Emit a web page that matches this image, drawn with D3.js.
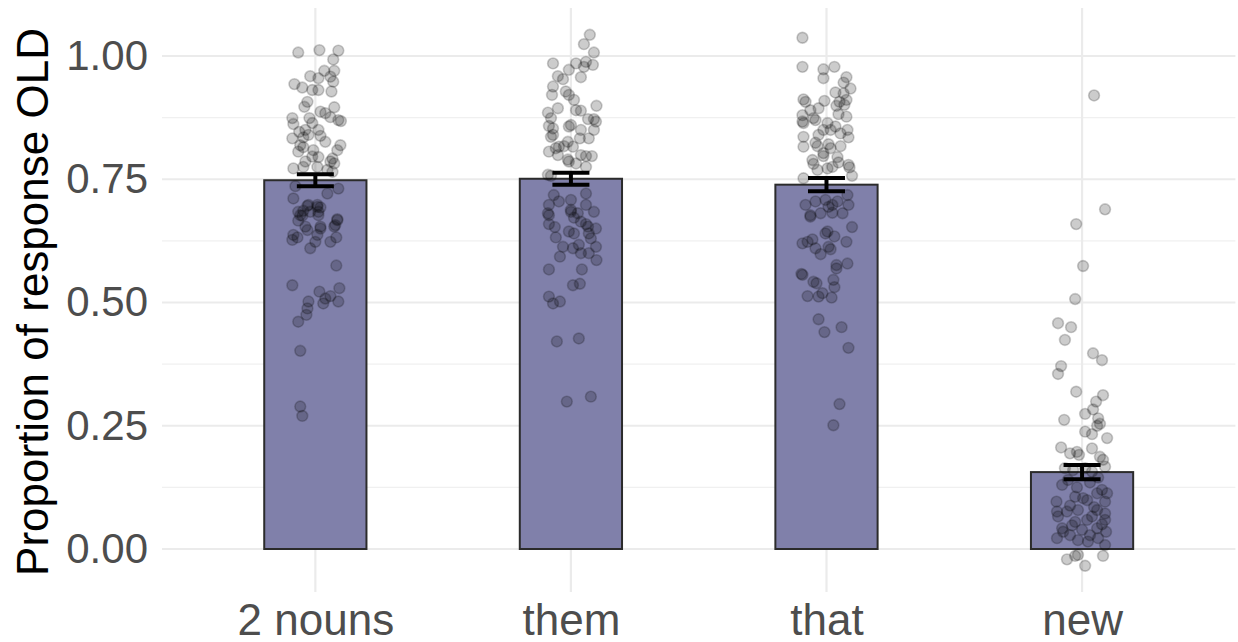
<!DOCTYPE html>
<html>
<head>
<meta charset="utf-8">
<script src="https://cdn.jsdelivr.net/npm/d3@7"></script>
<style>
  html, body { margin: 0; padding: 0; background: #fff; }
  svg { display: block; font-family: "Liberation Sans", Arial, Helvetica, sans-serif; }
</style>
</head>
<body>
<svg id="chart" width="1238" height="642"></svg>
<script>
// Conditions on the x axis
const categories = ["2 nouns", "them", "that", "new"];

// Mean proportion of "old" responses per condition, with standard errors
const means = [0.748, 0.751, 0.739, 0.156];
const stdErrors = [0.012, 0.012, 0.0135, 0.0145];

// Per-participant proportions and their horizontal jitter (fraction of the jitter width)
const nounsVals = [1.007,1.012,1.011,0.993,0.959,0.970,0.955,0.970,0.958,0.948,0.943,0.936,0.931,0.931,0.928,0.907,0.897,0.896,0.887,0.884,0.876,0.870,0.868,0.874,0.862,0.874,0.864,0.846,0.850,0.840,0.835,0.850,0.838,0.826,0.833,0.819,0.815,0.806,0.809,0.796,0.819,0.809,0.792,0.782,0.786,0.795,0.786,0.775,0.775,0.772,0.769,0.765,0.736,0.711,0.684,0.677,0.666,0.676,0.686,0.721,0.731,0.667,0.698,0.698,0.684,0.684,0.654,0.654,0.657,0.694,0.693,0.696,0.677,0.669,0.654,0.632,0.623,0.647,0.650,0.637,0.623,0.637,0.627,0.632,0.610,0.575,0.535,0.522,0.508,0.513,0.529,0.502,0.498,0.502,0.488,0.475,0.461,0.402,0.289,0.270];
const nounsJit = [-0.67,0.16,0.90,0.70,-0.20,0.35,0.12,0.74,0.59,0.70,-0.82,-0.51,-0.12,0.12,0.63,-0.31,-0.43,0.74,0.20,0.39,0.59,0.90,1.00,-0.90,-0.86,-0.23,-0.12,-0.63,-0.39,-0.27,-0.47,0.12,0.20,0.39,-0.90,-0.59,-0.47,-0.67,-0.08,-0.12,0.98,0.86,0.67,0.74,0.59,0.12,-0.39,-0.47,0.08,-0.86,0.47,0.67,-0.78,-0.86,-0.67,-0.59,-0.67,-0.51,-0.47,0.47,0.90,0.86,-0.27,0.08,0.12,-0.20,-0.39,0.20,0.78,0.08,0.20,-0.31,0.12,0.86,0.74,0.82,0.59,-0.31,0.20,0.08,0.00,-0.86,-0.90,-0.70,-0.20,0.82,-0.90,0.16,0.39,0.59,0.94,0.90,0.31,-0.27,-0.31,-0.35,-0.67,-0.59,-0.59,-0.51];

const themVals = [1.043,1.024,1.007,0.985,0.985,0.988,0.982,0.978,0.972,0.959,0.953,0.957,0.938,0.921,0.928,0.921,0.911,0.899,0.894,0.890,0.889,0.885,0.874,0.872,0.872,0.867,0.858,0.853,0.836,0.840,0.860,0.857,0.850,0.850,0.833,0.833,0.826,0.817,0.816,0.816,0.806,0.799,0.813,0.799,0.797,0.797,0.790,0.786,0.782,0.775,0.759,0.757,0.718,0.698,0.681,0.708,0.721,0.684,0.684,0.681,0.705,0.698,0.677,0.659,0.653,0.632,0.688,0.672,0.644,0.640,0.664,0.659,0.654,0.640,0.650,0.613,0.610,0.617,0.600,0.600,0.613,0.586,0.630,0.593,0.567,0.567,0.535,0.538,0.512,0.498,0.502,0.421,0.427,0.299,0.309];
const themJit = [0.74,0.51,0.90,-0.70,0.20,0.59,0.86,0.51,-0.08,-0.51,-0.31,0.39,-0.70,-0.74,-0.20,-0.08,0.12,1.00,-0.51,0.20,0.39,-0.90,-0.78,0.67,0.90,0.98,-0.86,-0.70,-0.78,-0.70,0.00,-0.08,0.39,0.90,0.70,0.35,-0.12,-0.27,-0.47,0.08,-0.86,-0.51,-0.59,0.39,0.59,0.82,-0.12,-0.08,0.20,0.59,-0.90,-0.78,-0.67,-0.86,-0.90,0.00,0.59,0.90,0.00,0.27,-0.47,0.59,-0.86,-0.86,-0.63,-0.59,0.00,0.12,-0.08,0.12,0.39,0.59,0.67,0.70,0.98,-0.31,0.08,0.31,0.39,0.70,0.98,1.00,0.78,-0.43,-0.86,0.43,0.08,0.35,-0.86,-0.70,-0.43,-0.55,0.31,-0.16,0.78];

const thatVals = [1.037,0.978,0.973,0.978,0.955,0.957,0.946,0.934,0.926,0.924,0.907,0.911,0.899,0.901,0.912,0.907,0.909,0.894,0.890,0.882,0.877,0.880,0.867,0.864,0.874,0.870,0.864,0.850,0.840,0.850,0.857,0.850,0.835,0.843,0.836,0.816,0.824,0.817,0.821,0.813,0.817,0.803,0.797,0.789,0.781,0.795,0.784,0.779,0.774,0.769,0.772,0.775,0.752,0.757,0.698,0.705,0.708,0.698,0.705,0.718,0.698,0.677,0.681,0.682,0.681,0.674,0.694,0.653,0.623,0.640,0.644,0.634,0.620,0.623,0.628,0.610,0.598,0.613,0.608,0.576,0.569,0.579,0.558,0.556,0.542,0.539,0.546,0.531,0.513,0.512,0.519,0.510,0.466,0.440,0.450,0.408,0.294,0.251];
const thatJit = [-0.94,-0.94,-0.12,0.31,-0.12,0.78,0.67,0.94,0.35,0.67,0.51,0.78,0.39,0.70,-0.90,-0.82,-0.08,-0.31,-0.63,0.47,0.78,-0.94,-0.94,-0.90,-0.51,-0.43,0.04,-0.12,-0.31,0.16,0.35,0.82,0.86,0.55,-0.90,-0.90,-0.43,-0.35,0.08,0.16,0.55,-0.12,-0.12,-0.55,-0.51,0.43,0.47,0.86,0.90,-0.35,0.04,0.23,-0.90,1.00,-0.82,-0.43,-0.04,0.23,0.43,0.82,0.86,-0.63,-0.23,0.23,0.63,-0.63,0.08,1.00,0.78,-0.04,0.04,0.31,-0.94,-0.74,-0.55,-0.43,-0.23,0.08,0.16,0.39,0.39,0.82,-0.98,-0.94,-0.51,-0.39,0.27,0.31,-0.74,-0.31,-0.16,0.20,-0.31,-0.08,0.59,0.86,0.51,0.27];

const newVals = [0.920,0.689,0.659,0.574,0.507,0.458,0.450,0.424,0.397,0.383,0.371,0.355,0.319,0.312,0.299,0.283,0.262,0.274,0.265,0.254,0.250,0.225,0.238,0.233,0.206,0.194,0.197,0.191,0.204,0.187,0.181,0.164,0.160,0.164,0.157,0.167,0.145,0.140,0.135,0.130,0.125,0.120,0.113,0.113,0.106,0.103,0.099,0.096,0.096,0.088,0.085,0.079,0.079,0.076,0.076,0.072,0.066,0.066,0.059,0.059,0.055,0.050,0.048,0.042,0.042,0.039,0.035,0.035,0.028,0.028,0.022,0.022,0.018,0.015,0.008,-0.012,-0.014,-0.014,-0.021,-0.034];
const newJit = [0.47,0.90,-0.23,0.04,-0.27,-0.94,-0.43,-0.67,0.43,0.78,-0.82,-0.94,-0.23,0.82,0.55,0.43,-0.70,0.12,0.63,0.70,0.59,0.98,0.12,0.39,-0.82,-0.47,-0.20,-0.12,0.39,0.70,0.82,-0.67,-0.35,0.12,0.39,0.90,0.63,-0.55,0.31,-0.78,-0.20,0.78,0.59,0.98,-0.27,0.04,0.20,-1.00,0.90,-0.47,0.47,-0.16,0.59,-0.98,-0.59,0.90,-0.94,0.39,0.20,0.90,-0.27,0.78,-0.39,-0.78,0.59,0.00,-0.74,0.94,0.31,-0.47,-0.98,0.63,-0.16,0.23,0.90,-0.16,-0.27,0.82,-0.59,0.12];

const yTicks = [0, 0.25, 0.5, 0.75, 1];
const yMinor = [0.125, 0.375, 0.625, 0.875];

const pointSets = [
  { cat: categories[0], vals: nounsVals, jit: nounsJit },
  { cat: categories[1], vals: themVals, jit: themJit },
  { cat: categories[2], vals: thatVals, jit: thatJit },
  { cat: categories[3], vals: newVals, jit: newJit }
];

// Layout
const svg = d3.select("#chart");
const panel = { left: 162, right: 1235.4, top: 8, bottom: 592 };

const x = d3.scalePoint()
  .domain(categories)
  .range([panel.left, panel.right])
  .padding(0.6);
const step = x.step();
const barWidth = 0.4 * step;
const jitterWidth = 0.1 * step;

const y = d3.scaleLinear().domain([0, 1]).range([549, 56]);

// Grid
const grid = svg.append("g");
grid.selectAll("line.minor").data(yMinor).join("line")
  .attr("x1", panel.left).attr("x2", panel.right)
  .attr("y1", d => y(d)).attr("y2", d => y(d))
  .attr("stroke", "#f0f0f0").attr("stroke-width", 1.2);
grid.selectAll("line.major").data(yTicks).join("line")
  .attr("x1", panel.left).attr("x2", panel.right)
  .attr("y1", d => y(d)).attr("y2", d => y(d))
  .attr("stroke", "#ebebeb").attr("stroke-width", 2.2);
grid.selectAll("line.vert").data(categories).join("line")
  .attr("x1", d => x(d)).attr("x2", d => x(d))
  .attr("y1", panel.top).attr("y2", panel.bottom)
  .attr("stroke", "#ebebeb").attr("stroke-width", 2.2);

// Bars
svg.append("g").selectAll("rect").data(categories).join("rect")
  .attr("x", d => x(d) - barWidth / 2)
  .attr("width", barWidth)
  .attr("y", (d, i) => y(means[i]))
  .attr("height", (d, i) => y(0) - y(means[i]))
  .attr("fill", "#8080aa")
  .attr("stroke", "#2b2b2b")
  .attr("stroke-width", 2);

// Jittered participant points
const pts = svg.append("g");
pointSets.forEach(s => {
  pts.selectAll(null).data(s.vals).join("circle")
    .attr("cx", (d, i) => x(s.cat) + s.jit[i] * jitterWidth)
    .attr("cy", d => y(d))
    .attr("r", 5.4)
    .attr("fill", "#000").attr("fill-opacity", 0.2)
    .attr("stroke", "#000").attr("stroke-opacity", 0.2).attr("stroke-width", 1.6);
});

// Error bars
const capHalf = 18.5;
const eb = svg.append("g").attr("stroke", "#000").attr("stroke-width", 4).attr("fill", "none");
categories.forEach((c, i) => {
  const cx = x(c), lo = y(means[i] - stdErrors[i]), hi = y(means[i] + stdErrors[i]);
  eb.append("line").attr("x1", cx).attr("x2", cx).attr("y1", lo).attr("y2", hi);
  eb.append("line").attr("x1", cx - capHalf).attr("x2", cx + capHalf).attr("y1", lo).attr("y2", lo);
  eb.append("line").attr("x1", cx - capHalf).attr("x2", cx + capHalf).attr("y1", hi).attr("y2", hi);
});

// Y axis labels
const yAxis = d3.axisLeft(y).tickValues(yTicks).tickFormat(d3.format(".2f")).tickSize(0).tickPadding(14);
const yg = svg.append("g").attr("transform", `translate(${panel.left},0)`).call(yAxis);
yg.select(".domain").remove();
yg.selectAll("text").attr("font-size", 42).attr("fill", "#4d4d4d")
  .attr("font-family", "'Liberation Sans', Arial, sans-serif");

// X axis labels
const xAxis = d3.axisBottom(x).tickSize(0).tickPadding(0);
const xg = svg.append("g").attr("transform", `translate(0,${panel.bottom})`).call(xAxis);
xg.select(".domain").remove();
xg.selectAll("text").attr("font-size", 44).attr("fill", "#4d4d4d")
  .attr("dy", null).attr("y", 43)
  .attr("font-family", "'Liberation Sans', Arial, sans-serif");

// Y axis title
svg.append("text")
  .attr("transform", `translate(48,${(panel.top + panel.bottom) / 2 + 2}) rotate(-90)`)
  .attr("text-anchor", "middle")
  .attr("font-size", 44)
  .attr("fill", "#000")
  .text("Proportion of response OLD");
</script>
</body>
</html>
